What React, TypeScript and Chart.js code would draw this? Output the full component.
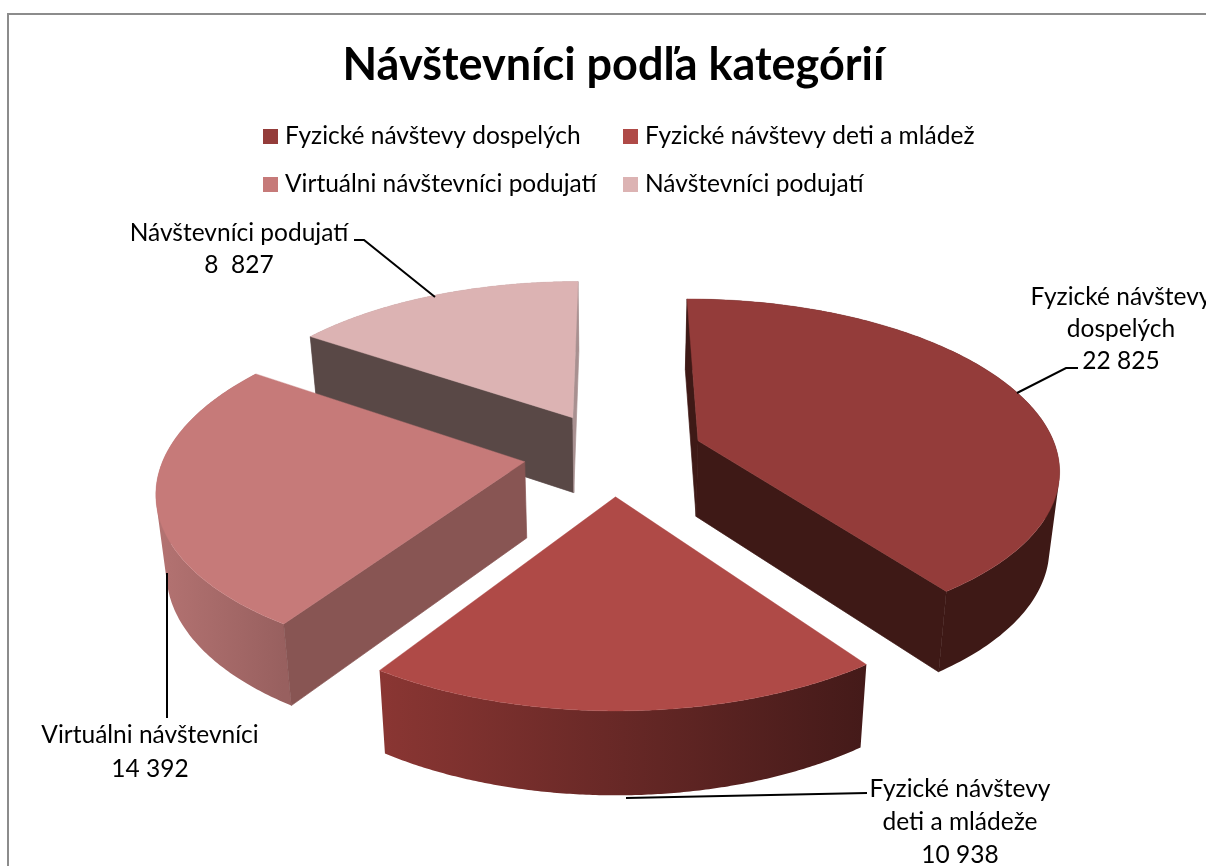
import React, { useEffect, useRef } from "react";
import { Chart, registerables } from "chart.js";

Chart.register(...registerables);

const TITLE = "Návštevníci podľa kategórií";
const CATEGORIES = [
  "Fyzické návštevy dospelých",
  "Fyzické návštevy deti a mládež",
  "Virtuálni návštevníci podujatí",
  "Návštevníci podujatí",
];
const VISITORS = [22825, 10938, 14392, 8827];
const TOP_COLORS = ["#943C3A", "#AF4A47", "#C67A79", "#DCB3B3"];
const WALL_LEFT = ["#3E1916", "#8A3633", "#B47372", "#B09898"];
const WALL_RIGHT = ["#3E1916", "#441A19", "#98605F", "#B09898"];
const CUT_START = ["#3E1916", "#5A2320", "#885553", "#594846"];
const CUT_END = ["#3E1916", "#5A2320", "#885553", "#A89090"];
const CALLOUT_LINES = [
  ["Fyzické návštevy", "dospelých", "22 825"],
  ["Fyzické návštevy", "deti a mládeže", "10 938"],
  ["Virtuálni návštevníci", "14 392"],
  ["Návštevníci podujatí", "8  827"],
];

const FONT = "Lato, 'Open Sans', sans-serif";
const EXPLODE = 0.25;
const PERSPECTIVE = 0.1515;
const HORIZON = 1102;
const DEPTH_BASE = 40;
const DEPTH_SCALE = 36;
const CONVERGE = 0.977;

const calloutLayout = [
  { x: 1121, ys: [297, 329, 361], leader: [[1078, 368], [1066, 368], [1017, 393]] },
  { x: 960, ys: [789, 822, 855], leader: [[867, 793], [626, 798]] },
  { x: 150, ys: [735, 769], leader: [[167, 718], [167, 573]] },
  { x: 239, ys: [233, 265], leader: [[354, 240], [364, 240], [435, 297]] },
];
const legendLayout = [
  { box: 263, text: 285, y: 136 },
  { box: 623, text: 645, y: 136 },
  { box: 263, text: 285, y: 184 },
  { box: 623, text: 645, y: 184 },
];

type Pt = { x: number; y: number };

const pie3d = {
  id: "pie3d",
  beforeDraw(chart: any) {
    const { ctx } = chart;
    ctx.save();
    ctx.strokeStyle = "#8C8C8C";
    ctx.lineWidth = 2;
    ctx.strokeRect(8, 14, chart.width + 40, chart.height + 40);
    ctx.restore();
  },
  beforeDatasetsDraw(chart: any) {
    const { ctx } = chart;
    const arcs = chart.getDatasetMeta(0).data as any[];
    const mid = (a: any) => (a.startAngle + a.endAngle) / 2;
    const order = arcs.map((_, i) => i).sort((p, q) => Math.sin(mid(arcs[p])) - Math.sin(mid(arcs[q])));
    ctx.save();
    ctx.lineJoin = "round";
    for (const i of order) {
      const arc = arcs[i];
      const R = arc.outerRadius;
      const m = mid(arc);
      const ex = EXPLODE * Math.cos(m);
      const ey = EXPLODE * Math.sin(m);
      const top = (a: number, r: number) => {
        const u = ex + r * Math.cos(a);
        const v = ey + r * Math.sin(a);
        const s = 1 / (1 - PERSPECTIVE * v);
        return { x: arc.x + R * u * s, y: arc.y - HORIZON + HORIZON * s, s };
      };
      const bottom = (a: number, r: number) => {
        const p = top(a, r);
        return { x: arc.x + (p.x - arc.x) * CONVERGE, y: p.y + DEPTH_BASE + DEPTH_SCALE * p.s };
      };
      const trace = (pts: Pt[]) => {
        pts.forEach((p, k) => (k ? ctx.lineTo(p.x, p.y) : ctx.moveTo(p.x, p.y)));
        ctx.closePath();
      };
      const poly = (pts: Pt[], fill: any, seam = 0.7) => {
        ctx.beginPath();
        trace(pts);
        ctx.fillStyle = fill;
        ctx.fill();
        ctx.strokeStyle = fill;
        ctx.lineWidth = seam;
        ctx.stroke();
      };
      const area = (pts: Pt[]) =>
        pts.reduce((sum, p, k) => {
          const q = pts[(k + 1) % pts.length];
          return sum + p.x * q.y - q.x * p.y;
        }, 0);
      const N = 160;
      const angles: number[] = [];
      for (let k = 0; k <= N; k++) angles.push(arc.startAngle + ((arc.endAngle - arc.startAngle) * k) / N);
      const a0 = arc.startAngle;
      const a1 = arc.endAngle;
      const topArc = angles.map((a) => top(a, 1));
      const botArc = angles.map((a) => bottom(a, 1));
      const xs = topArc.map((p) => p.x);
      const grad = ctx.createLinearGradient(Math.min(...xs), 0, Math.max(...xs), 0);
      grad.addColorStop(0, WALL_LEFT[i]);
      grad.addColorStop(1, WALL_RIGHT[i]);
      ctx.beginPath();
      for (let k = 0; k < N; k++) {
        const quad = [topArc[k], topArc[k + 1], botArc[k + 1], botArc[k]];
        trace(area(quad) < 0 ? quad.reverse() : quad);
      }
      ctx.fillStyle = grad;
      ctx.fill("nonzero");
      const facing = (a: number) => {
        const c = top(a, 0);
        const rim = top(a, 1);
        const low = bottom(a, 0);
        return (rim.x - c.x) * (low.y - c.y) - (rim.y - c.y) * (low.x - c.x);
      };
      if (facing(a0) < 0) poly([top(a0, 0), top(a0, 1), bottom(a0, 1), bottom(a0, 0)], CUT_START[i]);
      if (facing(a1) > 0) poly([top(a1, 0), top(a1, 1), bottom(a1, 1), bottom(a1, 0)], CUT_END[i]);
      poly([top(a0, 0), ...topArc], arc.options.backgroundColor, 0.4);
    }
    ctx.restore();
    return false;
  },
  afterDraw(chart: any) {
    const { ctx } = chart;
    ctx.save();
    ctx.textBaseline = "middle";
    ctx.fillStyle = "#000";
    ctx.font = `24.5px ${FONT}`;
    chart.data.labels.forEach((label: string, i: number) => {
      const l = legendLayout[i];
      ctx.fillStyle = TOP_COLORS[i];
      ctx.fillRect(l.box, l.y - 7, 15, 15);
      ctx.fillStyle = "#000";
      ctx.textAlign = "left";
      ctx.fillText(label, l.text, l.y);
    });
    CALLOUT_LINES.forEach((lines, i) => {
      const c = calloutLayout[i];
      ctx.textAlign = "center";
      lines.forEach((t, k) => ctx.fillText(t, c.x, c.ys[k]));
      ctx.beginPath();
      c.leader.forEach((p, k) => (k ? ctx.lineTo(p[0], p[1]) : ctx.moveTo(p[0], p[1])));
      ctx.strokeStyle = "#000";
      ctx.lineWidth = 2;
      ctx.stroke();
    });
    ctx.restore();
  },
};

export default function App() {
  const ref = useRef<HTMLCanvasElement | null>(null);
  useEffect(() => {
    const chart = new Chart(ref.current as HTMLCanvasElement, {
      type: "pie",
      data: {
        labels: CATEGORIES,
        datasets: [{ data: VISITORS, backgroundColor: TOP_COLORS, borderWidth: 0 }],
      },
      options: {
        animation: false,
        responsive: false,
        devicePixelRatio: 1,
        layout: { padding: { left: 254, right: 257, top: 0, bottom: 77 } },
        plugins: {
          legend: { display: false },
          tooltip: { enabled: false },
          title: {
            display: true,
            text: TITLE,
            color: "#000",
            font: { family: FONT, size: 45, weight: "bold" },
            padding: { top: 38, bottom: 2 },
          },
        },
      },
      plugins: [pie3d],
    } as any);
    return () => chart.destroy();
  }, []);
  return (
    <div style={{ position: "fixed", left: 0, top: 0, width: "100vw", height: "100vh", overflow: "hidden", background: "#fff" }}>
      <canvas ref={ref} width={1230} height={890} style={{ display: "block" }} />
    </div>
  );
}
